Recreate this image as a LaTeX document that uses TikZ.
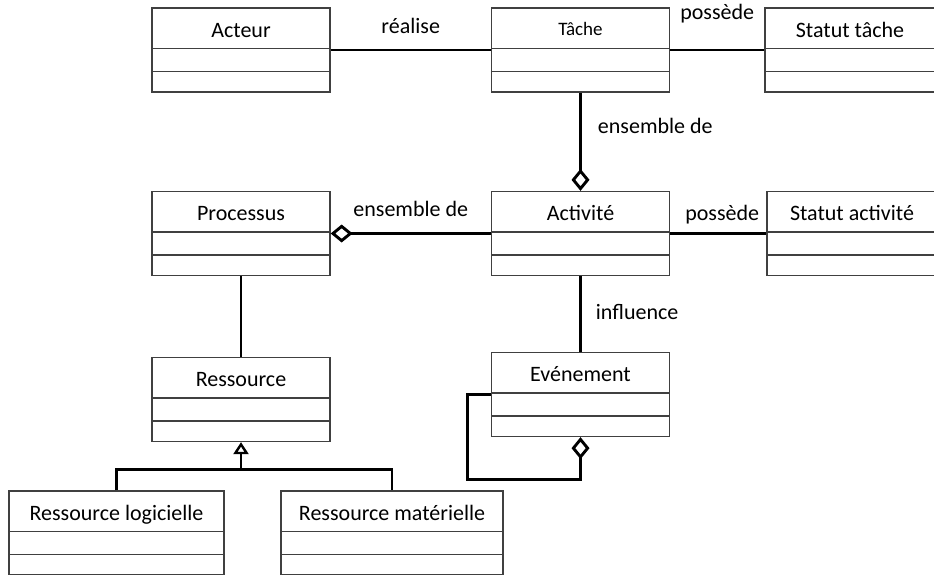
\documentclass[tikz,border=0pt]{standalone}
\usepackage{fontspec}
\setmainfont{Carlito}
\usetikzlibrary{arrows.meta}

\begin{document}
\begin{tikzpicture}[x=1pt, y=-1pt,
    classe/.style={draw=black!75, line width=1.3pt, minimum width=178pt, inner sep=0pt,
        text height=29pt, text depth=55pt, font=\fontsize{22}{26}\selectfont},
    cloison/.style={draw=black!75, line width=1.3pt},
    lien/.style={line width=2.9pt},
    etiquette/.style={inner sep=0pt, text height=16pt, text depth=5pt, font=\fontsize{22}{26}\selectfont},
    agreg/.style={-{Diamond[open, length=22pt, width=18pt]}},
    herite/.style={-{Triangle[open, length=12pt, width=15pt, line width=2.4pt]}}]

    \useasboundingbox (0,0) rectangle (934,574);
    \clip (0,0) rectangle (934,574);

    \node[classe] (acteur) at (241,50) {Acteur};
    \node[classe, right of=acteur, node distance=339.5pt, text height=27pt, text depth=57pt,
        font=\fontsize{19}{23}\selectfont] (tache) {Tâche};
    \node[classe, right of=tache, node distance=269.5pt, minimum width=170pt] (statutT) {Statut tâche};

    \node[classe, below of=tache, node distance=183.5pt] (activite) {Activité};
    \node[classe, left of=activite, node distance=339.5pt] (processus) {Processus};
    \node[classe, right of=activite, node distance=271.5pt, minimum width=170pt] (statutA) {Statut activité};

    \node[classe, below of=activite, node distance=161pt] (evenement) {Evénement};
    \node[classe, below of=processus, node distance=166pt] (ressource) {Ressource};

    \node[classe, minimum width=215pt] (logicielle) at (116.5,533) {Ressource logicielle};
    \node[classe, right of=logicielle, node distance=275.5pt, minimum width=222pt] (materielle) {Ressource matérielle};

    % compartiments
    \foreach \n in {acteur,tache,statutT,processus,activite,statutA,ressource,evenement,logicielle,materielle}
        \draw[cloison] ([yshift=-41pt]\n.north west) -- ([yshift=-41pt]\n.north east)
            ([yshift=-64pt]\n.north west) -- ([yshift=-64pt]\n.north east);

    \draw[lien] (acteur) -- node[etiquette, above=10pt] (realise) {réalise} (tache);
    \draw[lien] (tache) -- node[etiquette, above=24pt] (possedeT) {possède} (statutT);
    \draw[lien, agreg] (tache) -- node[etiquette, pos=.36, right=16pt] (ensembleT) {ensemble de} (activite);

    \draw[lien, agreg] (activite) -- node[etiquette, above=11pt] (ensembleP) {ensemble de} (processus);
    \draw[lien] (activite) -- node[etiquette, above=7pt, xshift=4pt] (possedeA) {possède} (statutA);
    \draw[lien] (activite) -- node[etiquette, right=14pt] (influence) {influence} (evenement);
    \draw[lien] (processus) -- (ressource);

    \draw[lien, agreg] (evenement.west) -- ++(-23,0) -- ++(0,85) -| (evenement.south);

    \path (ressource.south) -- ++(0,27) coordinate (gen);
    \draw[lien] (logicielle) |- (gen) -| (materielle);
    \draw[lien, herite] (gen) -- (ressource);

\end{tikzpicture}
\end{document}
